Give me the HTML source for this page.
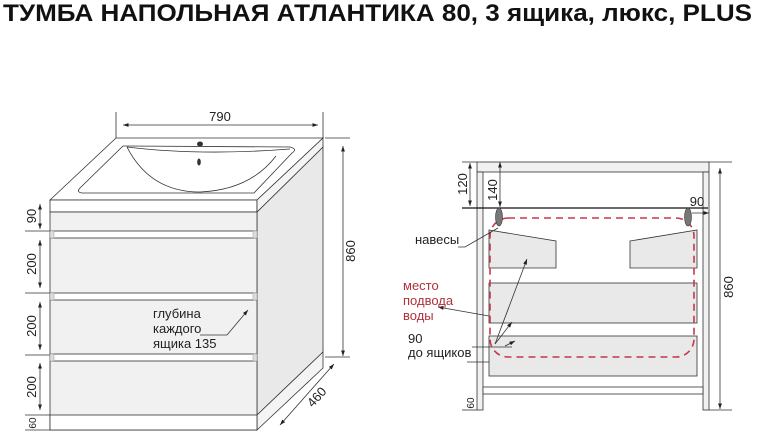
<!DOCTYPE html>
<html><head><meta charset="utf-8"><style>
html,body{margin:0;padding:0;background:#fff;}
svg{display:block;font-family:"Liberation Sans",sans-serif;}
</style></head><body>
<svg width="760" height="433" viewBox="0 0 760 433" xmlns="http://www.w3.org/2000/svg">
<defs>
<marker id="a" viewBox="0 0 10 10" refX="10" refY="5" markerWidth="7" markerHeight="7" orient="auto-start-reverse"><path d="M0,1.5 L10,5 L0,8.5 z" fill="#222"/></marker>
</defs>
<text x="3" y="21" font-size="24" font-weight="bold" textLength="749" lengthAdjust="spacingAndGlyphs" fill="#111">ТУМБА НАПОЛЬНАЯ АТЛАНТИКА 80, 3 ящика, люкс, PLUS</text>

<!-- LEFT -->
<g stroke="#333" stroke-width="0.8" fill="none">
<line x1="116" y1="112" x2="116" y2="138"/>
<line x1="323" y1="112" x2="323" y2="138"/>
<line x1="123" y1="125" x2="318" y2="125" marker-start="url(#a)" marker-end="url(#a)"/>
<polygon points="50,200 116,138 323,138 257,200" fill="#fff"/>
<rect x="50" y="200" width="207" height="12" fill="#fff"/>
<polygon points="257,212 323,147 323,352 257,415" fill="#e9e9e9"/>
<polygon points="257,200 323,138 323,147 257,212" fill="#f4f4f4"/>
<polygon points="257,415 323,352 323,368 257,430" fill="#f4f4f4"/>
<path d="M123,146 L290,147 Q298,149 292,153 L254,193 L82,193 Q76,192 80,188 Z" fill="#fff"/>
<path d="M127,147 Q200,156 290,149"/>
<path d="M127,147 Q150,192 200,192 Q250,190 276,156"/>
<rect x="50" y="212" width="207" height="218" fill="#f1f1f1"/>
<rect x="50" y="231" width="207" height="7" fill="#fff"/>
<rect x="50" y="293" width="207" height="7" fill="#fff"/>
<rect x="50" y="354" width="207" height="7" fill="#fff"/>
<rect x="50" y="415" width="207" height="15" fill="#fff"/>
<line x1="25" y1="231" x2="50" y2="231"/>
<line x1="25" y1="293" x2="50" y2="293"/>
<line x1="25" y1="355" x2="50" y2="355"/>
<line x1="25" y1="415" x2="50" y2="415"/>
<line x1="25" y1="430" x2="50" y2="430"/>
<line x1="40" y1="204" x2="40" y2="229" marker-start="url(#a)" marker-end="url(#a)"/>
<line x1="40" y1="240" x2="40" y2="288" marker-start="url(#a)" marker-end="url(#a)"/>
<line x1="40" y1="302" x2="40" y2="350" marker-start="url(#a)" marker-end="url(#a)"/>
<line x1="40" y1="363" x2="40" y2="410" marker-start="url(#a)" marker-end="url(#a)"/>
<line x1="325" y1="138" x2="350" y2="138"/>
<line x1="325" y1="357" x2="350" y2="357"/>
<line x1="343" y1="146" x2="343" y2="356" marker-start="url(#a)" marker-end="url(#a)"/>
<line x1="280" y1="425" x2="334" y2="364" marker-start="url(#a)" marker-end="url(#a)"/>
<polyline points="200,335 227,335 248,310" marker-end="url(#a)"/>
</g>
<g fill="#ddd" stroke="#999" stroke-width="0.5">
<rect x="50" y="231" width="4" height="7"/><rect x="253" y="231" width="4" height="7"/>
<rect x="50" y="293" width="4" height="7"/><rect x="253" y="293" width="4" height="7"/>
<rect x="50" y="354" width="4" height="7"/><rect x="253" y="354" width="4" height="7"/>
</g>
<ellipse cx="200" cy="144" rx="3" ry="2.5" fill="#333"/>
<ellipse cx="199" cy="162" rx="1.8" ry="3.5" fill="#333"/>
<g font-size="13" fill="#222">
<text x="220" y="121" text-anchor="middle">790</text>
<text transform="translate(36,216) rotate(-90)" text-anchor="middle">90</text>
<text transform="translate(36,264) rotate(-90)" text-anchor="middle">200</text>
<text transform="translate(36,326) rotate(-90)" text-anchor="middle">200</text>
<text transform="translate(36,387) rotate(-90)" text-anchor="middle">200</text>
<text transform="translate(36,423) rotate(-90)" text-anchor="middle" font-size="10">60</text>
<text transform="translate(355,251) rotate(-90)" text-anchor="middle">860</text>
<text transform="translate(320,400) rotate(-48)" text-anchor="middle">460</text>
<text x="153" y="318">глубина</text>
<text x="153" y="333">каждого</text>
<text x="153" y="348">ящика 135</text>
</g>

<!-- RIGHT -->
<g stroke="#333" stroke-width="0.8">
<rect x="477" y="162" width="232" height="10" fill="#f1f1f1"/>
<rect x="477" y="172" width="6" height="238" fill="#f1f1f1"/>
<rect x="703" y="172" width="6" height="238" fill="#f1f1f1"/>
<rect x="483" y="387" width="220" height="7" fill="#fff"/>
<line x1="462" y1="162" x2="477" y2="162"/>
<line x1="462" y1="208" x2="708" y2="208" stroke="#111" stroke-width="1.2"/>
<line x1="462" y1="410" x2="477" y2="410"/>
<line x1="709" y1="162" x2="732" y2="162"/>
<line x1="709" y1="410" x2="732" y2="410"/>
<polygon points="489,230 556,241 556,268 489,268" fill="#e9e9e9"/>
<polygon points="630,241 697,230 697,268 630,268" fill="#e9e9e9"/>
<rect x="489" y="283" width="208" height="40" fill="#e9e9e9"/>
<rect x="489" y="336" width="208" height="40" fill="#e9e9e9"/>
<line x1="467" y1="362" x2="489" y2="362"/>
</g>
<rect x="490" y="218" width="204" height="139" rx="18" fill="none" stroke="#c8374a" stroke-width="1.6" stroke-dasharray="7,5"/>
<ellipse cx="499" cy="217" rx="3.5" ry="9" fill="#777" stroke="#333" stroke-width="0.6"/>
<ellipse cx="688" cy="217" rx="3.5" ry="9" fill="#777" stroke="#333" stroke-width="0.6"/>
<g stroke="#333" stroke-width="0.8" fill="none">
<line x1="470" y1="163" x2="470" y2="206" marker-start="url(#a)" marker-end="url(#a)"/>
<line x1="500" y1="162" x2="500" y2="207" marker-start="url(#a)" marker-end="url(#a)"/>
<line x1="692" y1="213" x2="709" y2="213" marker-end="url(#a)"/>
<line x1="720" y1="168" x2="720" y2="409" marker-start="url(#a)" marker-end="url(#a)"/>
<polyline points="458,247 465,247 498,228"/>
<line x1="489" y1="316" x2="438" y2="307" marker-end="url(#a)"/>
<line x1="472" y1="347" x2="512" y2="347"/>
<line x1="495" y1="344" x2="527" y2="259" marker-end="url(#a)"/>
<line x1="495" y1="344" x2="512" y2="322" marker-end="url(#a)"/>
<line x1="505" y1="346" x2="515" y2="341" marker-end="url(#a)"/>
</g>
<g font-size="13" fill="#222">
<text transform="translate(467,184) rotate(-90)" text-anchor="middle">120</text>
<text transform="translate(497,190) rotate(-90)" text-anchor="middle">140</text>
<text x="697" y="206" text-anchor="middle">90</text>
<text transform="translate(733,287) rotate(-90)" text-anchor="middle">860</text>
<text x="415" y="244">навесы</text>
<text x="403" y="290" fill="#b0303c">место</text>
<text x="403" y="305" fill="#b0303c">подвода</text>
<text x="403" y="320" fill="#b0303c">воды</text>
<text x="408" y="343">90</text>
<text x="408" y="357">до ящиков</text>
<text transform="translate(474,403) rotate(-90)" text-anchor="middle" font-size="10">60</text>
</g>
</svg>
</body></html>
